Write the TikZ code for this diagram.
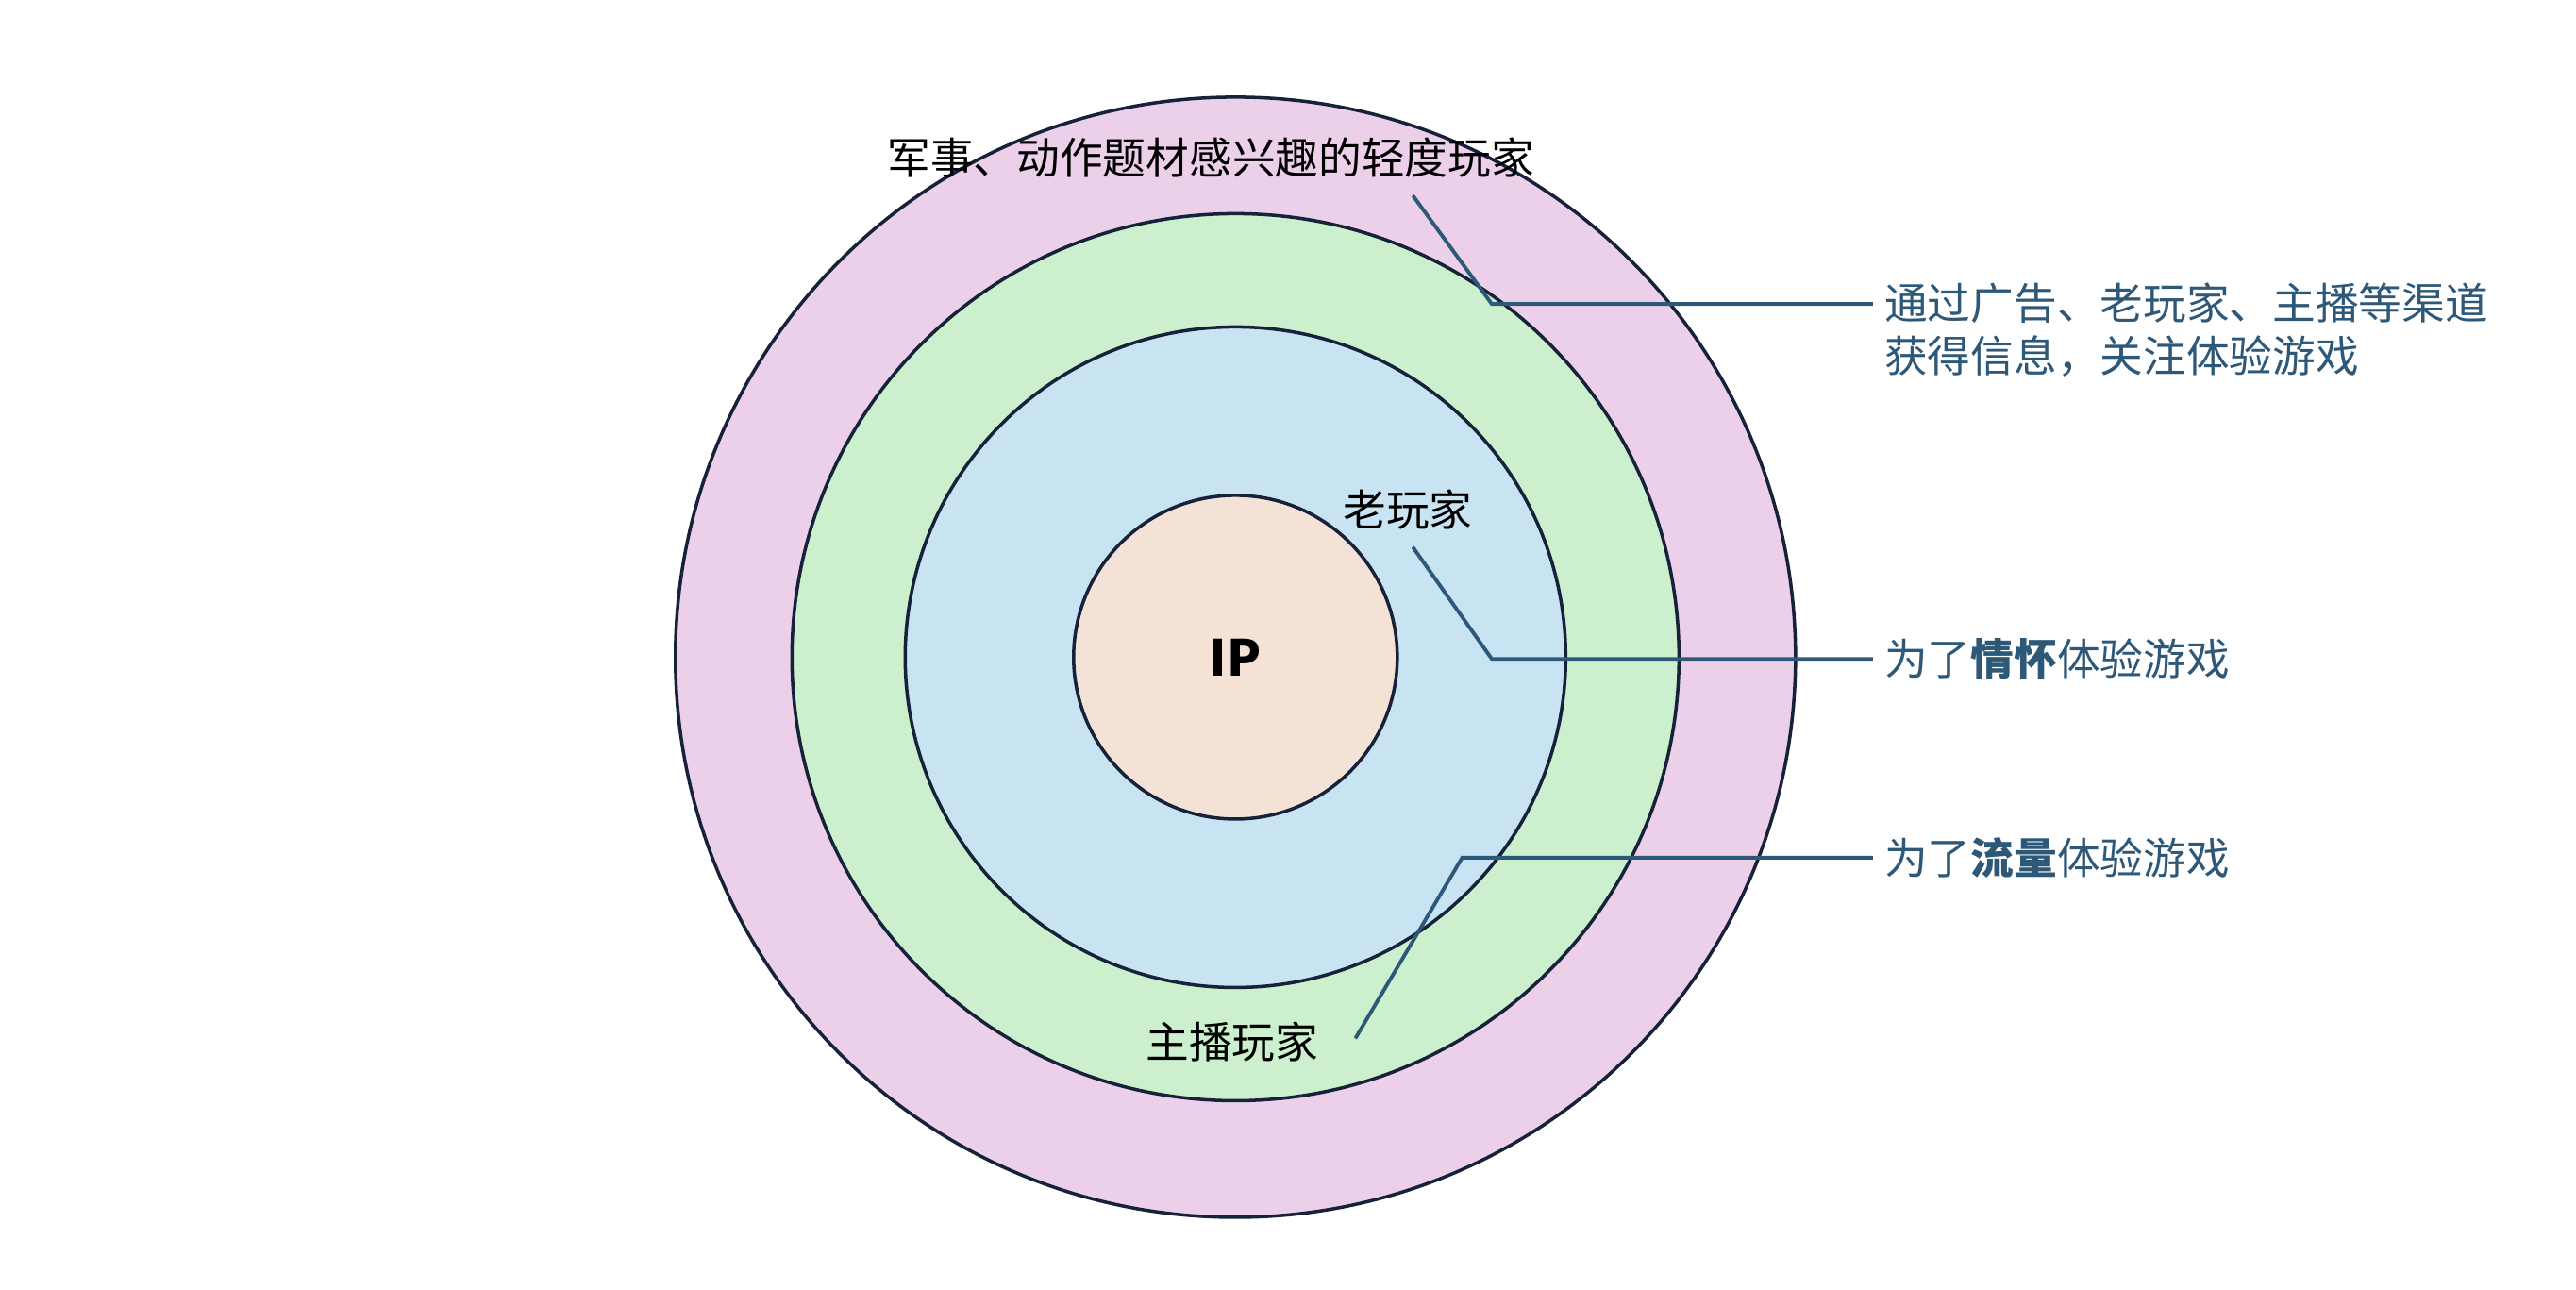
\documentclass[tikz,border=0pt]{standalone}
\usepackage{fontspec}
\setmainfont{Noto Sans CJK SC}
\usetikzlibrary{positioning}
\definecolor{ringline}{HTML}{16213A}
\definecolor{leadcol}{HTML}{2E5878}
\definecolor{pinkfill}{HTML}{ECD0EA}
\definecolor{greenfill}{HTML}{CCEFCD}
\definecolor{bluefill}{HTML}{C8E3F2}
\definecolor{peachfill}{HTML}{F5E2D7}
\tikzset{ring/.style={circle, draw=ringline, line width=1pt, inner sep=0pt},
  tag/.style={font=\fontsize{13}{16}\selectfont, text=black},
  note/.style={font=\fontsize{13}{16}\selectfont, text=leadcol, anchor=west, align=left},
  leader/.style={draw=leadcol, line width=1.1pt}}
\begin{document}
\begin{tikzpicture}[x=0.01741cm, y=-0.01741cm]
    \useasboundingbox (0,0) rectangle (1568,784.6);
    % Rings
    \node [ring, fill=pinkfill, minimum size=11.87cm] (outer) at (752,400) {};
    \node [ring, fill=greenfill, minimum size=9.40cm] (middle) at (752,400) {};
    \node [ring, fill=bluefill, minimum size=7.00cm] (inner) at (752,400) {};
    \node [ring, fill=peachfill, minimum size=3.43cm, font=\fontsize{15}{18}\selectfont\bfseries] (ip) at (752,400) {IP};
    % Labels
    \node [tag] (light) at (737,96) {军事、动作题材感兴趣的轻度玩家};
    \node [tag] (old) at (857,310) {老玩家};
    \node [tag] (stream) at (750,634) {主播玩家};
    % Notes
    \node [note] (n1) at (1140,201) {通过广告、老玩家、主播等渠道\\获得信息，关注体验游戏};
    \node [note] (n2) at (1140,401) {为了\textbf{情怀}体验游戏};
    \node [note] (n3) at (1140,522) {为了\textbf{流量}体验游戏};
    % Leaders
    \coordinate (a1) at (860,119);
    \coordinate (a2) at (860,333);
    \coordinate (a3) at (825,632);
    \draw [leader] (a1) -- (908,185) -- (n1.west |- 0,185);
    \draw [leader] (a2) -- (908,401) -- (n2.west);
    \draw [leader] (a3) -- (890,522) -- (n3.west);
\end{tikzpicture}
\end{document}
